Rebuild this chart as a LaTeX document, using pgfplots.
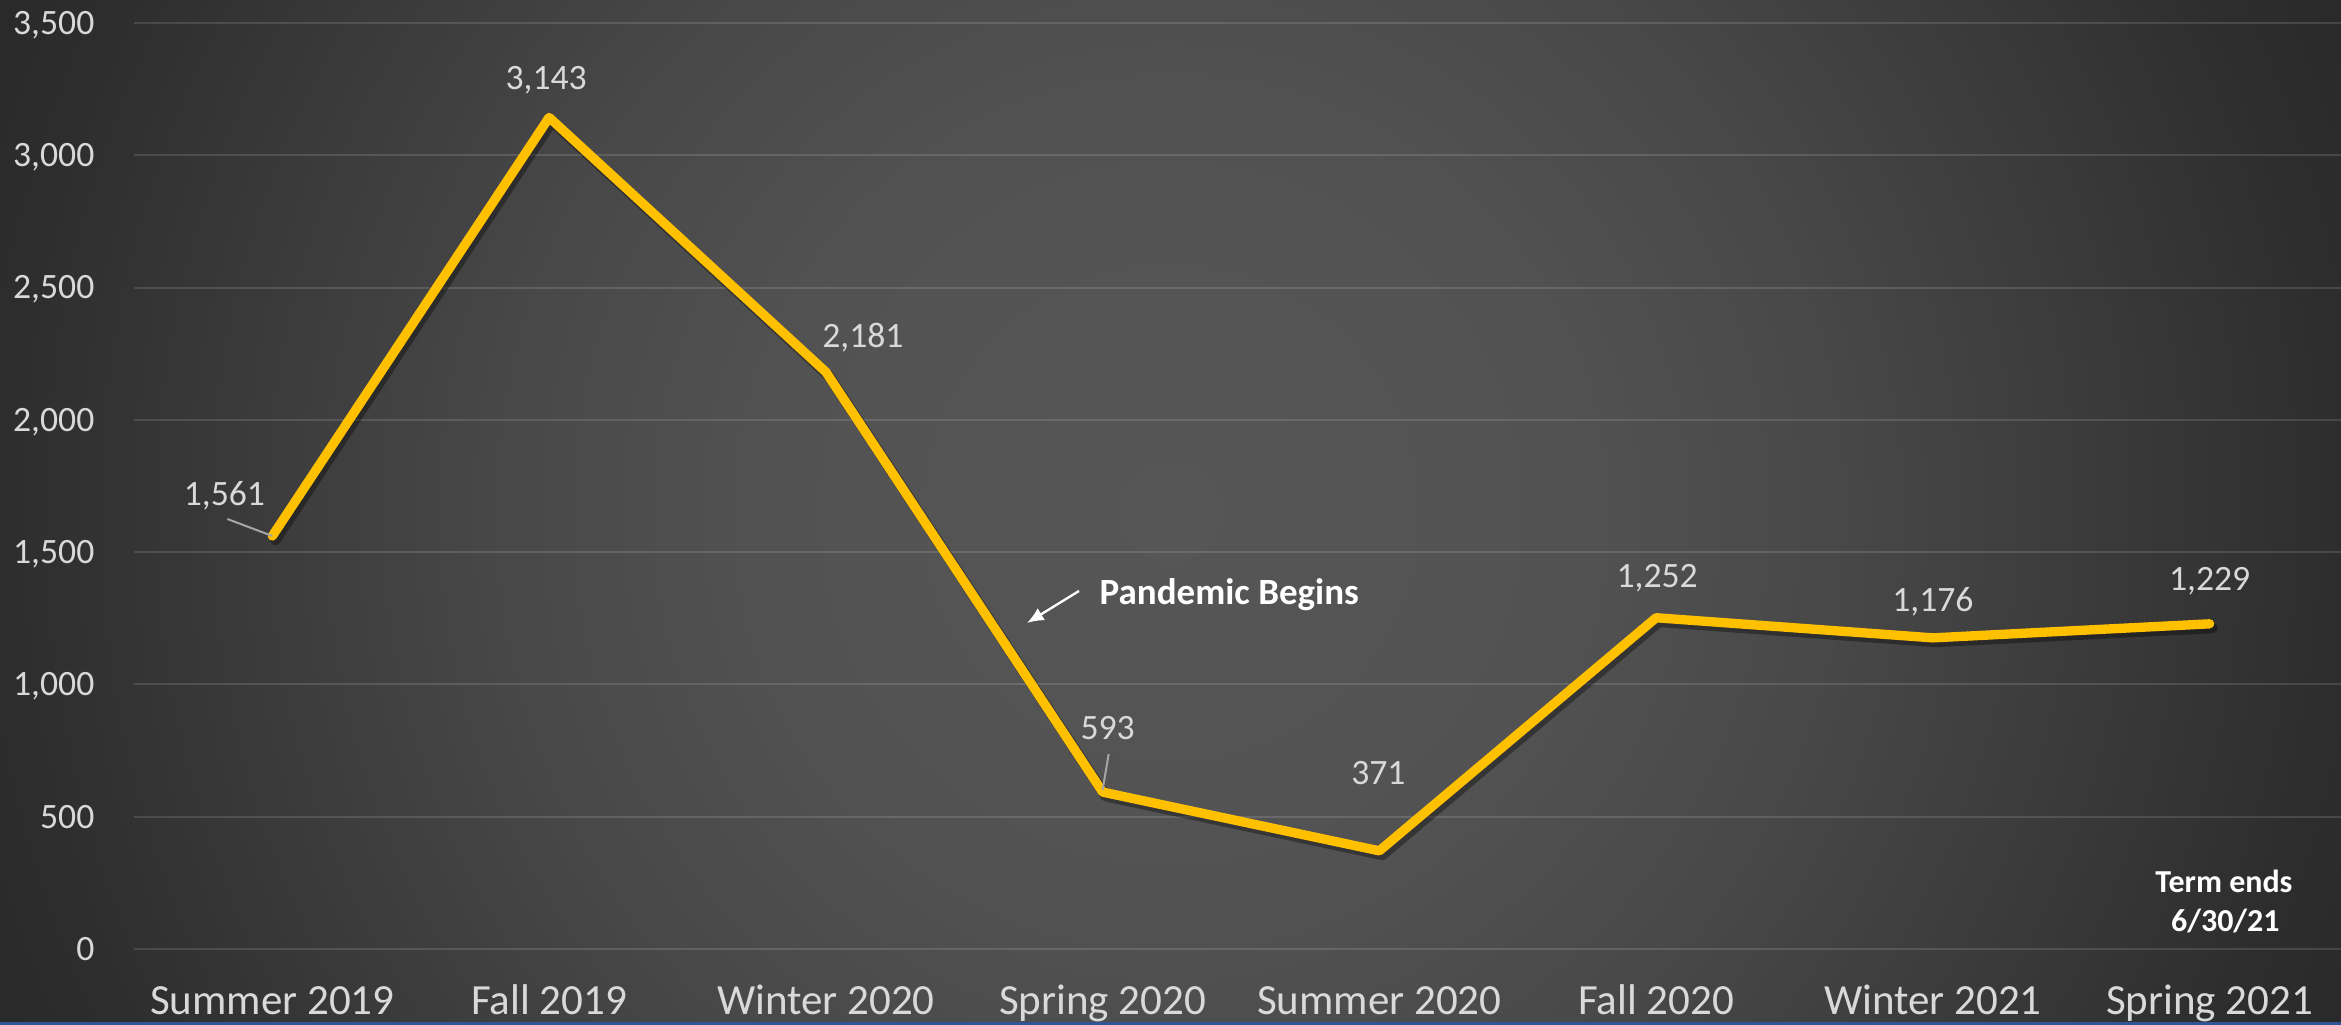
\documentclass[border=0pt]{standalone}
\usepackage{pgfplots}
\pgfplotsset{compat=1.18}
\usepackage{fontspec}
\setmainfont{Carlito}
\usetikzlibrary{arrows.meta}
\definecolor{gold}{HTML}{FFC000}
\definecolor{labelgray}{HTML}{D9D9D9}
\definecolor{leadergray}{HTML}{A6A6A6}
\definecolor{edgeblue}{HTML}{2F5597}
\definecolor{bga}{RGB}{86,86,86}
\definecolor{bgb}{RGB}{82,82,82}
\definecolor{bgc}{RGB}{72,72,72}
\definecolor{bgd}{RGB}{58,58,58}
\definecolor{bge}{RGB}{45,45,45}
\definecolor{bgf}{RGB}{40,40,40}
\pgfdeclareradialshading{bgrad}{\pgfpointorigin}{color(0bp)=(bga); color(7.5bp)=(bgb); color(12.5bp)=(bgc); color(17.5bp)=(bgd); color(22bp)=(bge); color(25bp)=(bgf); color(50bp)=(bgf)}
\tikzset{dlab/.style={font=\fontsize{10.7}{12}\selectfont, color=labelgray, anchor=base, inner sep=0pt}}
\begin{document}
\begin{tikzpicture}[x=1pt,y=1pt]
\useasboundingbox (0,0) rectangle (702.3,307.5);
\begin{scope}
\clip (0,0) rectangle (702.3,307.5);
\shade[shading=bgrad] (351.15,153.75) circle (400pt);
\end{scope}
\begin{axis}[
  at={(40.2pt,22.8pt)}, anchor=south west,
  scale only axis, width=664.2pt, height=277.8pt,
  xmin=-0.5, xmax=7.5, ymin=0, ymax=3500,
  ytick={0,500,...,3500},
  xtick={0,...,7},
  xticklabels={Summer 2019, Fall 2019, Winter 2020, Spring 2020, Summer 2020, Fall 2020, Winter 2021, Spring 2021},
  axis line style={draw=none},
  major tick length=0pt,
  ymajorgrids,
  grid style={white, opacity=0.13, line width=0.6pt},
  tick label style={color=labelgray},
  yticklabel style={font=\fontsize{10.7}{12}\selectfont, anchor=base east, inner sep=0pt, xshift=-11.7pt, yshift=-3.4pt},
  xticklabel style={font=\fontsize{12.9}{15}\selectfont, anchor=base, inner sep=0pt, yshift=-19.8pt},
  /pgf/number format/assume math mode=true,
  scaled y ticks=false,
  clip=false,
]
\addplot[draw=black, opacity=0.35, line width=3.2pt, line join=round, line cap=round, xshift=0.9pt, yshift=-1.2pt, forget plot]
  coordinates {(0,1561) (1,3143) (2,2181) (3,593) (4,371) (5,1252) (6,1176) (7,1229)};
\addplot[draw=gold, line width=2.8pt, line join=round, line cap=round]
  coordinates {(0,1561) (1,3143) (2,2181) (3,593) (4,371) (5,1252) (6,1176) (7,1229)};
\draw[leadergray, line width=0.6pt] (axis cs:0,1561) ++(-13.5pt,5.1pt) -- (axis cs:0,1561);
\draw[leadergray, line width=0.6pt] (axis cs:3,593) ++(1.8pt,11.4pt) -- ++(-1.8pt,-10.8pt);
\node[dlab, xshift=-14.4pt, yshift=9.2pt] at (axis cs:0,1561) {1,561};
\node[dlab, xshift=-0.9pt, yshift=8.45pt] at (axis cs:1,3143) {3,143};
\node[dlab, xshift=11.1pt, yshift=7.4pt] at (axis cs:2,2181) {2,181};
\node[dlab, xshift=1.5pt, yshift=15.8pt] at (axis cs:3,593) {593};
\node[dlab, xshift=-0.3pt, yshift=20.0pt] at (axis cs:4,371) {371};
\node[dlab, xshift=0.3pt, yshift=9.2pt] at (axis cs:5,1252) {1,252};
\node[dlab, xshift=0pt, yshift=8.0pt] at (axis cs:6,1176) {1,176};
\node[dlab, xshift=0pt, yshift=10.1pt] at (axis cs:7,1229) {1,229};
\end{axis}
\draw[white, line width=0.7pt, -{Latex[length=5pt,width=4.2pt]}] (323.7,130.2) -- (308.1,120.6);
\node[anchor=base west, inner sep=0pt, text=white, font=\bfseries\fontsize{11.1}{13}\selectfont] at (329.7,126) {Pandemic Begins};
\node[anchor=base, inner sep=0pt, text=white, font=\bfseries\fontsize{9.6}{11}\selectfont] at (667.2,39.6) {Term ends};
\node[anchor=base, inner sep=0pt, text=white, font=\bfseries\fontsize{9.6}{11}\selectfont] at (667.6,27.9) {6/30/21};
\fill[edgeblue] (0,0) rectangle (702.3,0.8);
\end{tikzpicture}
\end{document}
